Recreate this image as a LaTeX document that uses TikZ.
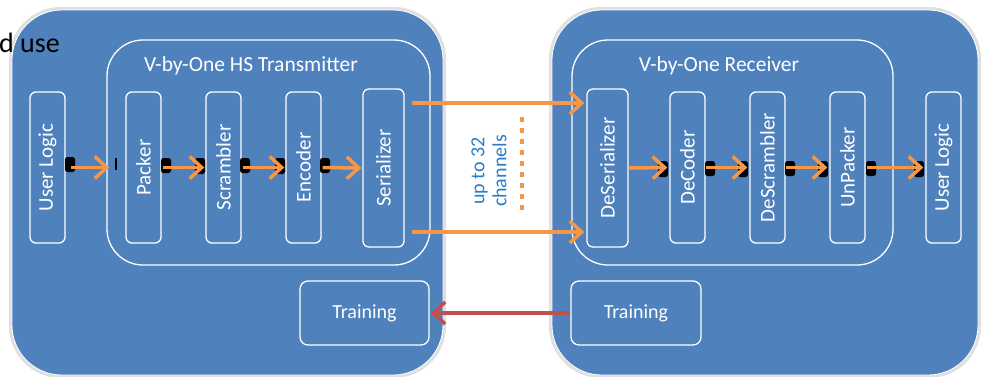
\documentclass[tikz,border=0pt]{standalone}
\usepackage{fontspec}
\setmainfont{Carlito}
\usetikzlibrary{arrows.meta}
\definecolor{boxblue}{HTML}{4F81BD}
\definecolor{arrorange}{HTML}{F79646}
\definecolor{arrred}{HTML}{C0504D}
\definecolor{txtblue}{HTML}{2B7CC9}
\tikzset{
  outerbox/.style={draw=white, line width=0.8pt, fill=boxblue, rounded corners=50pt, inner sep=0pt},
  innerbox/.style={draw=white, line width=1.3pt, rounded corners=36pt, inner sep=0pt},
  blockv/.style={draw=white, line width=1.3pt, fill=boxblue, rounded corners=6pt, rotate=90,
    minimum width=151pt, minimum height=35pt, inner sep=0pt, text=white, font=\fontsize{21}{21}\selectfont},
  blockw/.style={blockv, minimum width=158pt, minimum height=41pt},
  trainbox/.style={draw=white, line width=1.3pt, fill=boxblue, rounded corners=8pt,
    minimum width=129pt, minimum height=64pt, inner sep=0pt, text=white, font=\fontsize{20}{20}\selectfont},
  titletext/.style={text=white, font=\fontsize{21.5}{21.5}\selectfont, inner sep=0pt},
  orarrow/.style={draw=arrorange, line width=3.5pt, -{Straight Barb[length=12pt, width=22pt, line width=3.5pt]}},
  redarrow/.style={draw=arrred, line width=3.5pt, -{Straight Barb[length=12pt, width=22pt, line width=3.5pt]}},
  blob/.style={fill=black, rounded corners=2.5pt}
}
\begin{document}
\begin{tikzpicture}[x=1pt, y=-1pt]
\useasboundingbox (0,0) rectangle (984,376);
\fill[white] (0,0) rectangle (984,376);

% soft shadows of outer boxes
\draw[black!12, line width=4pt, rounded corners=50pt] (11,9) rectangle (444,376);
\draw[black!12, line width=4pt, rounded corners=50pt] (551,9) rectangle (979,376);

% outer boxes
\node[outerbox, minimum width=431pt, minimum height=365pt] (outL) at (227.5,192.5) {};
\node[outerbox, minimum width=426pt, minimum height=365pt] (outR) at (765,192.5) {};

\node[anchor=base west, inner sep=0pt, font=\fontsize{28}{28}\selectfont] (duse) at (-1,52) {d use};

% inner boxes
\node[innerbox, minimum width=323pt, minimum height=225pt] (tx) at (268.5,152.5) {};
\node[innerbox, minimum width=321pt, minimum height=225pt] (rx) at (732.5,152.5) {};
\node[titletext] (txt) at (251,66) {V-by-One HS Transmitter};
\node[titletext] (rxt) at (719,66) {V-by-One Receiver};

% blocks left
\node[blockv] (ulL) at (47.5,167.5) {User Logic};
\node[blockv] (pack) at (143.5,167.5) {Packer};
\node[blockv] (scr) at (223.5,167.5) {Scrambler};
\node[blockv] (enc) at (303.5,167.5) {Encoder};
\node[blockw] (ser) at (383.5,168) {Serializer};
% blocks right
\node[blockw] (deser) at (607.5,168) {DeSerializer};
\node[blockv] (dec) at (687.5,167.5) {DeCoder};
\node[blockv] (dsc) at (767.5,167.5) {DeScrambler};
\node[blockv] (unp) at (847.5,167.5) {UnPacker};
\node[blockv] (ulR) at (943.5,167.5) {User Logic};

% training
\node[trainbox] (trL) at (364.5,313) {Training};
\node[trainbox, minimum width=130pt] (trR) at (636,313) {Training};

% channel label
\node[rotate=90, align=center, text=txtblue, font=\fontsize{20}{22}\selectfont, inner sep=0pt] (chan) at (489,171) {up to 32\\channels};
\coordinate (dotA) at (522,117);
\coordinate (dotB) at (522,215);
\draw[arrorange, line width=4pt, dash pattern=on 5pt off 6pt] (dotA) -- (dotB);

% black blobs
\foreach \x/\y in {65/165, 161/166, 240/166, 320/166, 705/169, 785/169, 866/169}{
  \fill[blob] (\x,\y-8) rectangle ++(10,15);
}
\foreach \x/\y in {195/166, 275/166, 658/169, 738/169, 818/169, 914/169}{
  \fill[blob] (\x,\y-8) rectangle ++(10,16);
}
\fill[black] (115,158) rectangle (117,170);

% small arrows
\draw[orarrow, shorten <=5pt, shorten >=16pt] (ulL.south) -- (pack.north);
\draw[orarrow, shorten <=1pt, shorten >=1pt] (pack.south) -- (scr.north);
\draw[orarrow, shorten <=1pt, shorten >=1pt] (scr.south) -- (enc.north);
\draw[orarrow, shorten <=1pt, shorten >=1pt] (enc.south) -- (ser.north);
\draw[orarrow, shorten <=0pt, shorten >=2pt] (deser.south) -- (dec.north);
\draw[orarrow, shorten <=0pt, shorten >=2pt] (dec.south) -- (dsc.north);
\draw[orarrow, shorten <=0pt, shorten >=2pt] (dsc.south) -- (unp.north);
\draw[orarrow, shorten <=1pt, shorten >=2pt] (unp.south) -- (ulR.north);

% channel arrows
\draw[orarrow, shorten <=7pt, shorten >=2pt] ([yshift=65pt]ser.south) -- ([yshift=65pt]deser.north);
\draw[orarrow, shorten <=7pt, shorten >=2pt] ([yshift=-64pt]ser.south) -- ([yshift=-64pt]deser.north);

% training arrow
\draw[redarrow, shorten >=1pt] (trR.west) -- (trL.east);
\end{tikzpicture}
\end{document}
